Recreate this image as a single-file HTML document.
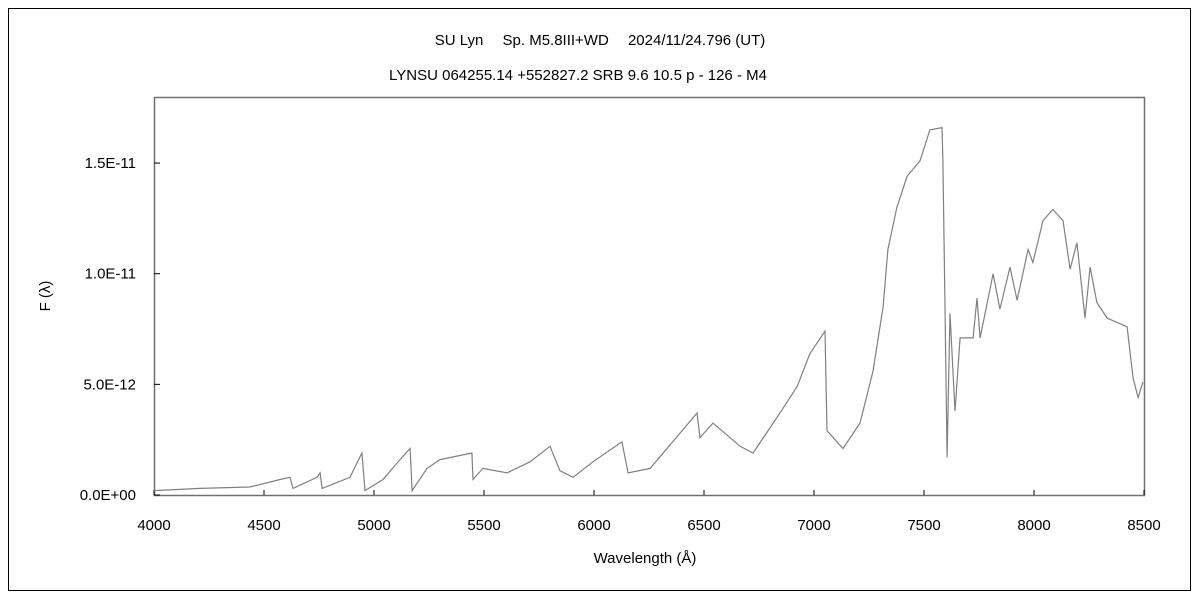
<!DOCTYPE html>
<html><head><meta charset="utf-8"><style>
body{margin:0;background:#fff;}
svg text{font-family:"Liberation Sans","Noto Sans CJK JP",sans-serif;font-size:15px;fill:#000;}
</style></head><body>
<svg width="1200" height="600" viewBox="0 0 1200 600">
<rect x="8.5" y="8.5" width="1182" height="582" fill="#fff" stroke="#000"/>
<text x="600" y="45" text-anchor="middle">SU Lyn　 Sp.  M5.8III+WD　 2024/11/24.796 (UT)</text>
<text x="578" y="80" text-anchor="middle">LYNSU 064255.14 +552827.2 SRB 9.6 10.5 p - 126 - M4</text>
<rect x="154.5" y="97.5" width="990" height="398" fill="none" stroke="#707070" stroke-width="1.5"/>
<g id="axes"></g>
<path id="line" fill="none" stroke="#808080" stroke-width="1.2"/>
<text x="645" y="563" text-anchor="middle">Wavelength (Å)</text>
<text transform="translate(50,296) rotate(-90)" text-anchor="middle">F (λ)</text>
</svg>
<script>
const xTicks=[4000,4500,5000,5500,6000,6500,7000,7500,8000,8500];
const yTicks=[0,5,10,15];
const yTickLabels=["0.0E+00","5.0E-12","1.0E-11","1.5E-11"];
const wavelengths=[4000,4209,4436,4573,4618,4632,4741,4755,4764,4891,4945,4959,5041,5118,5164,5173,5241,5300,5445,5450,5495,5605,5709,5800,5845,5905,5995,6127,6155,6255,6468,6482,6541,6664,6723,6845,6923,6982,7050,7059,7132,7209,7268,7314,7336,7377,7423,7482,7527,7582,7586,7595,7605,7618,7641,7664,7723,7741,7755,7814,7845,7891,7923,7973,7995,8041,8086,8132,8164,8195,8232,8255,8286,8332,8423,8450,8473,8495];
const fluxE12=[0.2,0.3,0.36,0.7,0.8,0.3,0.8,1.0,0.3,0.8,1.9,0.2,0.7,1.6,2.1,0.2,1.2,1.6,1.9,0.7,1.2,1.0,1.5,2.2,1.1,0.8,1.5,2.4,1.0,1.2,3.7,2.6,3.25,2.2,1.9,3.7,4.9,6.4,7.4,2.9,2.1,3.25,5.6,8.5,11.1,13.0,14.4,15.1,16.5,16.6,15.1,8.8,1.7,8.2,3.8,7.1,7.1,8.9,7.1,10.0,8.4,10.3,8.8,11.1,10.5,12.4,12.9,12.4,10.2,11.4,8.0,10.3,8.7,8.0,7.6,5.3,4.4,5.1];
const X=v=>154+(v-4000)/4500*990;
const Y=v=>495-v*22.13;
const ns="http://www.w3.org/2000/svg";
const g=document.getElementById('axes');
xTicks.forEach(t=>{
 const l=document.createElementNS(ns,'line');
 l.setAttribute('x1',X(t));l.setAttribute('x2',X(t));l.setAttribute('y1',495);l.setAttribute('y2',490);l.setAttribute('stroke','#000');
 
 
 g.appendChild(l);
 const tx=document.createElementNS(ns,'text');
 tx.setAttribute('x',X(t));tx.setAttribute('y',530);tx.setAttribute('text-anchor','middle');tx.textContent=t;
 
 
 g.appendChild(tx);
});
yTicks.forEach((t,i)=>{
 const l=document.createElementNS(ns,'line');
 l.setAttribute('x1',154);l.setAttribute('x2',160);l.setAttribute('y1',Y(t));l.setAttribute('y2',Y(t));l.setAttribute('stroke','#000');
 
 
 g.appendChild(l);
 const tx=document.createElementNS(ns,'text');
 tx.setAttribute('x',136);tx.setAttribute('y',Y(t)+5);tx.setAttribute('text-anchor','end');tx.textContent=yTickLabels[i];
 
 
 g.appendChild(tx);
});
let d='';
wavelengths.forEach((w,i)=>{
 const x=X(w),y=Y(fluxE12[i]);
 d+=(i===0?'M':' L')+x.toFixed(1)+' '+y.toFixed(1);
});
document.getElementById('line').setAttribute('d',d);
</script>
</body></html>
